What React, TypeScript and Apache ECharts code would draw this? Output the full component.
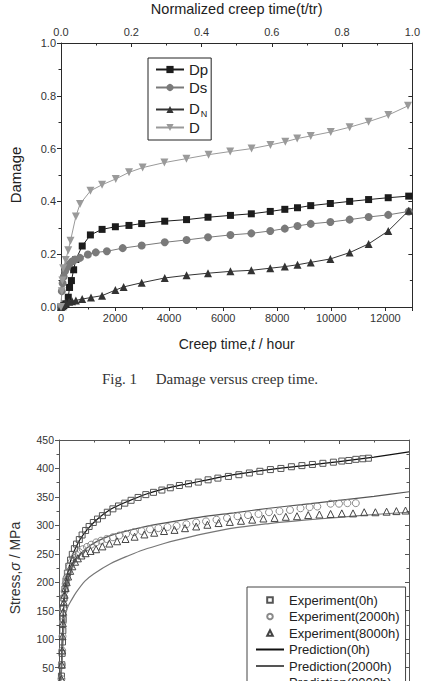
import React, { useEffect, useRef } from "react";
import * as echarts from "echarts";

// ---- Fig. 1: damage components against creep time, [hours, damage] ----
const dpSeries: [number, number][] = [
  [0, 0], [100, 0.005], [175, 0.012], [269, 0.037], [316, 0.074], [386, 0.1], [468, 0.141],
  [550, 0.18], [785, 0.231], [1088, 0.273], [1520, 0.294], [2012, 0.304], [2515, 0.309],
  [2985, 0.316], [3838, 0.325], [4645, 0.331], [5439, 0.34], [6270, 0.347], [7042, 0.353],
  [7743, 0.362], [8281, 0.37], [8750, 0.376], [9240, 0.384], [9966, 0.392], [10680, 0.4],
  [11381, 0.407], [12107, 0.414], [12866, 0.42],
];
const dsSeries: [number, number][] = [
  [0, 0], [30, 0.06], [60, 0.09], [100, 0.115], [150, 0.135], [220, 0.15], [300, 0.162],
  [400, 0.172], [520, 0.18], [702, 0.186], [994, 0.199], [1287, 0.207], [1697, 0.211],
  [2282, 0.223], [2985, 0.233], [3838, 0.245], [4645, 0.254], [5439, 0.264], [6270, 0.273],
  [7042, 0.279], [7743, 0.288], [8281, 0.297], [8750, 0.307], [9240, 0.315], [9966, 0.322],
  [10680, 0.331], [11381, 0.341], [12107, 0.349], [12866, 0.362],
];
const dnSeries: [number, number][] = [
  [0, 0], [60, 0.003], [117, 0.01], [175, 0.016], [300, 0.02], [410, 0.022], [550, 0.025],
  [785, 0.03], [1111, 0.036], [1520, 0.043], [2012, 0.064], [2317, 0.076], [2985, 0.092],
  [3838, 0.11], [4645, 0.12], [5439, 0.128], [6270, 0.135], [7042, 0.139], [7743, 0.147],
  [8281, 0.153], [8750, 0.16], [9240, 0.169], [9966, 0.182], [10680, 0.206], [11381, 0.239],
  [12107, 0.288], [12866, 0.365],
];
const dTotalSeries: [number, number][] = [
  [0, 0], [30, 0.06], [50, 0.1], [82, 0.147], [175, 0.178], [269, 0.215], [351, 0.251],
  [550, 0.343], [702, 0.39], [1090, 0.44], [1520, 0.463], [2025, 0.485], [2515, 0.51],
  [3020, 0.528], [3825, 0.547], [4640, 0.562], [5460, 0.577], [6260, 0.589], [7050, 0.6],
  [7750, 0.614], [8300, 0.626], [8740, 0.638], [9240, 0.648], [9980, 0.663], [10680, 0.681],
  [11380, 0.702], [12110, 0.727], [12840, 0.762],
];
const damageNames = ["Dp", "Ds", "DN", "D"];

// ---- Stress against strain, [strain, MPa] ----
const exp0h: [number, number][] = [
  [0.03, 15], [0.035, 35], [0.04, 55], [0.045, 75], [0.05, 95], [0.055, 115], [0.06, 135],
  [0.065, 155], [0.07, 172], [0.085, 188], [0.1, 202], [0.12, 216], [0.14, 228], [0.165, 239],
  [0.19, 249], [0.22, 259], [0.25, 267], [0.29, 275], [0.33, 283], [0.38, 291], [0.43, 298],
  [0.49, 305], [0.55, 311], [0.62, 317], [0.69, 323], [0.77, 329], [0.85, 334], [0.94, 339],
  [1.03, 344], [1.13, 349], [1.24, 354], [1.35, 358], [1.47, 362], [1.59, 366], [1.72, 370],
  [1.85, 373], [1.99, 376], [2.13, 380], [2.27, 383], [2.42, 386], [2.57, 389], [2.72, 392],
  [2.87, 395], [3.02, 398], [3.17, 400], [3.32, 403], [3.47, 405], [3.62, 407], [3.77, 409],
  [3.92, 411], [4.04, 413], [4.14, 414], [4.24, 416], [4.34, 417], [4.42, 418],
];
const exp2000h: [number, number][] = [
  [0.035, 30], [0.04, 55], [0.045, 80], [0.05, 105], [0.055, 130], [0.06, 152], [0.07, 170],
  [0.08, 184], [0.095, 197], [0.11, 208], [0.13, 218], [0.155, 228], [0.18, 236], [0.21, 243],
  [0.25, 248], [0.29, 253], [0.34, 258], [0.4, 262], [0.46, 266], [0.53, 270], [0.6, 273],
  [0.68, 276], [0.77, 279], [0.86, 282], [0.96, 285], [1.07, 288], [1.18, 290], [1.3, 293],
  [1.42, 295], [1.55, 297], [1.68, 299], [1.82, 302], [1.96, 305], [2.1, 307], [2.25, 310],
  [2.4, 313], [2.55, 316], [2.7, 318], [2.85, 320], [3.0, 323], [3.15, 325], [3.3, 327],
  [3.45, 330], [3.58, 332], [3.69, 333], [3.88, 338], [4.0, 338], [4.12, 339], [4.24, 339],
];
const exp8000h: [number, number][] = [
  [0.035, 30], [0.04, 55], [0.045, 80], [0.05, 105], [0.055, 128], [0.06, 148], [0.07, 165],
  [0.08, 178], [0.095, 190], [0.11, 200], [0.13, 210], [0.16, 220], [0.19, 228], [0.23, 236],
  [0.27, 242], [0.32, 247], [0.38, 251], [0.45, 255], [0.53, 258], [0.62, 263], [0.72, 268],
  [0.83, 272], [0.95, 276], [1.08, 280], [1.22, 284], [1.36, 287], [1.5, 290], [1.65, 292],
  [1.8, 295], [1.96, 298], [2.12, 301], [2.28, 304], [2.44, 306], [2.6, 308], [2.76, 310],
  [2.92, 312], [3.08, 313], [3.24, 315], [3.4, 316], [3.56, 318], [3.72, 319], [3.88, 320],
  [4.04, 321], [4.2, 321], [4.36, 323], [4.52, 323], [4.68, 324], [4.82, 325], [4.95, 326],
];
const pred0h: [number, number][] = [
  [0, 0], [0.03, 40], [0.045, 90], [0.06, 140], [0.075, 175], [0.1, 200], [0.15, 230],
  [0.2, 250], [0.3, 275], [0.4, 292], [0.55, 311], [0.75, 329], [1.0, 343], [1.25, 355],
  [1.5, 364], [1.75, 371], [2.0, 377], [2.5, 389], [3.0, 398], [3.5, 405], [4.0, 412],
  [4.5, 420], [5.0, 429],
];
const pred2000h: [number, number][] = [
  [0, 0], [0.03, 40], [0.045, 90], [0.06, 140], [0.08, 172], [0.1, 190], [0.15, 214],
  [0.2, 230], [0.3, 249], [0.45, 265], [0.65, 278], [0.9, 288], [1.2, 297], [1.5, 304],
  [2.0, 314], [2.5, 322], [3.0, 330], [3.5, 337], [4.0, 344], [4.5, 351], [5.0, 359],
];
const pred8000h: [number, number][] = [
  [0, 0], [0.04, 50], [0.06, 100], [0.08, 135], [0.12, 155], [0.18, 169], [0.25, 183],
  [0.37, 202], [0.5, 215], [0.74, 233], [1.0, 247], [1.21, 257], [1.5, 268], [1.68, 274],
  [2.06, 285], [2.53, 296], [3.0, 303], [3.5, 309], [4.0, 314], [4.5, 319], [5.0, 323],
];
const stressNames = [
  "Experiment(0h)", "Experiment(2000h)", "Experiment(8000h)",
  "Prediction(0h)", "Prediction(2000h)", "Prediction(8000h)",
];

const FONT = '"Liberation Sans", Arial, Helvetica, sans-serif';
const INK = "#2a2a2a";

function frame(
  gridIndex: number,
  position: string,
  min: number,
  max: number,
  interval: number,
  label: any,
  inside: boolean,
  color: string,
  extra: any = {}
) {
  const ls = { color, width: 1 };
  return {
    type: "value",
    gridIndex,
    position,
    min,
    max,
    interval,
    axisLine: { show: true, onZero: false, lineStyle: ls },
    axisTick: { show: true, inside, length: 4, lineStyle: ls },
    minorTick: { show: true, splitNumber: 2, length: 2.5, lineStyle: ls },
    splitLine: { show: false },
    axisLabel: label
      ? { color: "#333", fontFamily: FONT, margin: 5, ...label }
      : { show: false },
    ...extra,
  };
}

export default function App() {
  const ref = useRef<HTMLDivElement>(null);

  useEffect(() => {
    document.body.style.margin = "0";
    document.body.style.overflow = "hidden";
    document.documentElement.style.overflow = "hidden";
    if (!ref.current) return;
    const chart = echarts.init(ref.current, undefined, { renderer: "svg" });

    const oneDec = (v: number) => v.toFixed(1);
    const plain = (v: number) => String(v);

    const option: any = {
      animation: false,
      backgroundColor: "#fff",
      textStyle: { fontFamily: FONT },
      grid: [
        { left: 45, top: 35, width: 370, height: 272, show: false },
        { left: 54, top: 440, width: 355, height: 256, show: false },
      ],
      xAxis: [
        frame(0, "bottom", 0, 13000, 2000, { fontSize: 11, formatter: plain, showMaxLabel: false }, false, INK, {
          name: "{n|Creep time,}{i|t}{n| / hour}",
          nameLocation: "middle",
          nameGap: 30,
          nameTextStyle: {
            rich: {
              n: { fontSize: 14, color: "#222", fontFamily: FONT },
              i: { fontSize: 14, color: "#222", fontFamily: FONT, fontStyle: "italic" },
            },
          },
        }),
        frame(0, "top", 0, 1, 0.2, { fontSize: 11, margin: 6, formatter: oneDec }, true, INK, {
          name: "Normalized creep time(t/tr)",
          nameLocation: "middle",
          nameGap: 27,
          nameTextStyle: { fontSize: 14.5, color: "#222", fontFamily: FONT },
        }),
        frame(1, "bottom", 0, 5, 1, null, false, "#555"),
        frame(1, "top", 0, 5, 1, null, true, "#555"),
      ],
      yAxis: [
        frame(0, "left", 0, 1, 0.2, { fontSize: 11, formatter: oneDec }, false, INK, {
          name: "Damage",
          nameLocation: "middle",
          nameGap: 38,
          nameTextStyle: { fontSize: 15, color: "#222", fontFamily: FONT },
        }),
        frame(0, "right", 0, 1, 0.2, null, true, INK),
        frame(1, "left", 0, 450, 50, { fontSize: 10.5, formatter: plain, showMinLabel: false }, false, "#555", {
          name: "{n|Stress,}{i|σ}{n| / MPa}",
          nameLocation: "middle",
          nameGap: 37,
          nameTextStyle: {
            rich: {
              n: { fontSize: 14, color: "#333", fontFamily: FONT },
              i: { fontSize: 14, color: "#333", fontFamily: FONT, fontStyle: "italic" },
            },
          },
        }),
        frame(1, "right", 0, 450, 50, null, true, "#555"),
      ],
      legend: [
        {
          orient: "vertical",
          left: 148,
          top: 58,
          selectedMode: false,
          data: damageNames,
          itemWidth: 28,
          itemHeight: 9,
          itemGap: 1,
          padding: [3, 3, 4, 7],
          borderColor: "#222",
          borderWidth: 1,
          formatter: (name: string) => (name === "DN" ? "{dn|D}{sub|N}" : name),
          textStyle: {
            fontSize: 15,
            lineHeight: 17,
            color: "#222",
            fontFamily: FONT,
            rich: {
              dn: { fontSize: 15, lineHeight: 17, verticalAlign: "top", color: "#222", fontFamily: FONT },
              sub: { fontSize: 9, lineHeight: 9, padding: [12, 0, 0, 1], verticalAlign: "bottom", color: "#222", fontFamily: FONT },
            },
          },
        },
        {
          orient: "vertical",
          left: 247,
          top: 587,
          selectedMode: false,
          itemWidth: 28,
          itemHeight: 7,
          itemGap: 0.5,
          padding: [5, 6, 5, 8],
          borderColor: "#444",
          borderWidth: 1,
          data: stressNames.map((n, i) =>
            i < 3 ? { name: n, lineStyle: { opacity: 0 } } : { name: n, itemStyle: { opacity: 0 } }
          ),
          textStyle: { fontSize: 13, lineHeight: 16, color: "#222", fontFamily: FONT },
        },
      ],
      series: [
        {
          type: "line", name: "Dp", xAxisIndex: 0, yAxisIndex: 0, data: dpSeries,
          symbol: "rect", symbolSize: 7, showSymbol: true,
          lineStyle: { color: "#1c1c1c", width: 1 }, itemStyle: { color: "#1c1c1c" },
        },
        {
          type: "line", name: "Ds", xAxisIndex: 0, yAxisIndex: 0, data: dsSeries,
          symbol: "circle", symbolSize: 8, showSymbol: true,
          lineStyle: { color: "#7a7a7a", width: 1 }, itemStyle: { color: "#7a7a7a" },
        },
        {
          type: "line", name: "DN", xAxisIndex: 0, yAxisIndex: 0, data: dnSeries,
          symbol: "triangle", symbolSize: 8, showSymbol: true,
          lineStyle: { color: "#333", width: 1 }, itemStyle: { color: "#333" },
        },
        {
          type: "line", name: "D", xAxisIndex: 0, yAxisIndex: 0, data: dTotalSeries,
          symbol: "triangle", symbolRotate: 180, symbolSize: 8, showSymbol: true,
          lineStyle: { color: "#9a9a9a", width: 1 }, itemStyle: { color: "#9a9a9a" },
        },
        {
          type: "line", name: stressNames[0], xAxisIndex: 2, yAxisIndex: 2, data: exp0h,
          symbol: "rect", symbolSize: 6, showSymbol: true,
          lineStyle: { opacity: 0, width: 0 },
          itemStyle: { color: "rgba(255,255,255,0)", borderColor: "#555", borderWidth: 1 },
        },
        {
          type: "line", name: stressNames[1], xAxisIndex: 2, yAxisIndex: 2, data: exp2000h,
          symbol: "circle", symbolSize: 7, showSymbol: true,
          lineStyle: { opacity: 0, width: 0 },
          itemStyle: { color: "rgba(255,255,255,0)", borderColor: "#8a8a8a", borderWidth: 1 },
        },
        {
          type: "line", name: stressNames[2], xAxisIndex: 2, yAxisIndex: 2, data: exp8000h,
          symbol: "triangle", symbolSize: 7, showSymbol: true,
          lineStyle: { opacity: 0, width: 0 },
          itemStyle: { color: "rgba(255,255,255,0)", borderColor: "#444", borderWidth: 1 },
        },
        {
          type: "line", name: stressNames[3], xAxisIndex: 2, yAxisIndex: 2, data: pred0h,
          symbol: "none", smooth: 0.3,
          lineStyle: { color: "#111", width: 1.2 }, itemStyle: { color: "#111", opacity: 0 },
        },
        {
          type: "line", name: stressNames[4], xAxisIndex: 2, yAxisIndex: 2, data: pred2000h,
          symbol: "none", smooth: 0.3,
          lineStyle: { color: "#555", width: 1.2 }, itemStyle: { color: "#555", opacity: 0 },
        },
        {
          type: "line", name: stressNames[5], xAxisIndex: 2, yAxisIndex: 2, data: pred8000h,
          symbol: "none", smooth: 0.3,
          lineStyle: { color: "#777", width: 1.2 }, itemStyle: { color: "#777", opacity: 0 },
        },
      ],
      graphic: [
        {
          type: "text",
          x: 210,
          y: 379,
          style: {
            text: "Fig. 1\u2003 Damage versus creep time.",
            font: '15px "Liberation Serif", "Times New Roman", serif',
            fill: "#333",
            textAlign: "center",
            textVerticalAlign: "middle",
          },
        },
      ],
    };

    chart.setOption(option);
    return () => chart.dispose();
  }, []);

  return <div ref={ref} style={{ width: 423, height: 720 }} />;
}
